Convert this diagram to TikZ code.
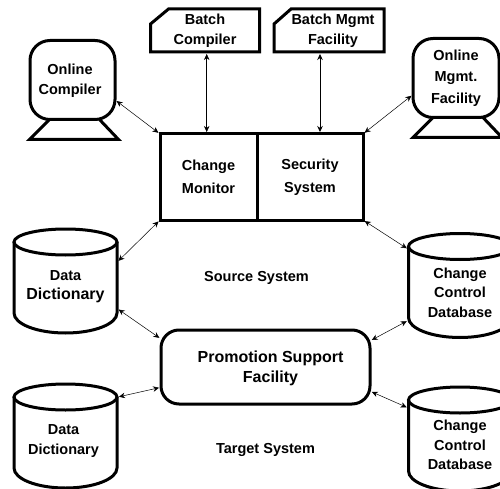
\documentclass[tikz,border=0pt]{standalone}
\usepackage{fontspec}
\setmainfont{Liberation Sans}
\usepackage{tikz}
\usetikzlibrary{arrows.meta,positioning}
\tikzset{
    every node/.style={font=\bfseries\fontsize{14.5}{20}\selectfont,align=center,inner sep=0pt,outer sep=0pt},
    box node/.style={draw,line width=3pt,rectangle,minimum height=86pt},
    card node/.style={rectangle,minimum width=#1,minimum height=43pt},
    screen node/.style={draw,line width=3pt,rectangle,rounded corners=20pt,minimum width=85pt,minimum height=79pt},
    db node/.style={rectangle,minimum width=103pt,minimum height=104pt},
    text node/.style={font=\bfseries\fontsize{14.5}{19.5}\selectfont},
    outline/.style={line width=3pt,line join=miter},
    link/.style={<->,>={Stealth[length=6pt,width=5.5pt]},line width=0.5pt,shorten >=2pt,shorten <=2pt}
}
\newcommand{\screenbase}[1]{%
    \draw[outline] ([xshift=-23pt]#1.south) -- ([xshift=-43pt,yshift=-20pt]#1.south)
        -- ([xshift=46pt,yshift=-20pt]#1.south) -- ([xshift=27pt]#1.south);
}
\newcommand{\dbshape}[1]{%
    \draw[outline] ([yshift=-13pt]#1.north) ellipse [x radius=51.5pt,y radius=13pt];
    \draw[outline] ([yshift=-13pt]#1.north west) -- ([yshift=20pt]#1.south west)
        arc [start angle=180,end angle=360,x radius=51.5pt,y radius=20pt] -- ([yshift=-13pt]#1.north east);
}
\begin{document}
\begin{tikzpicture}[x=1pt,y=-1pt]
    \useasboundingbox (0,0) rectangle (500,489);

    \node[box node,minimum width=97pt] (monitor) at (208.5,177) {Change\\[3pt]Monitor};
    \node[box node,minimum width=106pt] (security) [right=0pt of monitor] {Security\\[3pt]System};

    \node[card node=109pt] (batchc) at (205,30.5) {Batch\\Compiler};
    \node[card node=102pt] (batchm) at (333,30.5) {Batch Mgmt\\Facility};
    \draw[outline] ([yshift=-15pt]batchc.north west) -- ([xshift=18pt]batchc.north west)
        -- (batchc.north east) -- (batchc.south east) -- (batchc.south west) -- cycle;
    \draw[outline] ([xshift=-8pt,yshift=-15pt]batchm.north west) -- ([xshift=9pt]batchm.north west)
        -- (batchm.north east) -- (batchm.south east) -- ([xshift=-8pt]batchm.south west) -- cycle;

    \node[screen node,label={[xshift=-2.5pt,yshift=-1pt]center:{Online\\Compiler}}] (compiler) at (72.5,80) {};
    \node[screen node,minimum width=86pt] (mgmt) at (456,78) {Online\\[1.5pt]Mgmt.\\[1.5pt]Facility};
    \screenbase{compiler}
    \screenbase{mgmt}

    \node[db node,label={[text node,yshift=-5.5pt]center:{Data\\{\fontsize{16}{20}\selectfont Dictionary}}}] (dict1) at (65.5,281) {};
    \node[db node,label={[text node,xshift=-2pt,yshift=-5pt]center:{Data\\Dictionary}}] (dict2) at (65.5,436) {};
    \node[db node,label={[text node,yshift=-7pt]center:{Change\\Control\\Database}}] (control1) at (460,285.5) {};
    \node[db node,label={[text node,yshift=-6pt]center:{Change\\Control\\Database}}] (control2) at (460,439) {};
    \dbshape{dict1}
    \dbshape{dict2}
    \dbshape{control1}
    \dbshape{control2}

    \node[draw,line width=3pt,rectangle,rounded corners=18pt,minimum width=209pt,minimum height=74pt,
        label={[font=\bfseries\fontsize{16}{20}\selectfont,xshift=5pt,yshift=-1pt]center:{Promotion Support\\Facility}}] (promotion) at (265.5,367) {};

    \node (source) at (256.5,278) {Source System};
    \node (target) at (265.5,450) {Target System};

    \draw[link] ([xshift=1.7pt]batchc.south) -- ([xshift=-1.8pt]monitor.north);
    \draw[link] ([xshift=-13pt]batchm.south) -- ([xshift=10pt]security.north);
    \draw[link] (compiler.-25) -- (monitor.north west);
    \draw[link] (mgmt.201.6) -- (security.north east);
    \draw[link] (dict1.20) -- (monitor.south west);
    \draw[link] (control1.145) -- (security.south east);
    \draw[link] (dict1.-28) -- (promotion.165.5);
    \draw[link] (dict2.37) -- (promotion.191);
    \draw[link] (promotion.14.5) -- (control1.214);
    \draw[link] (promotion.-13.5) -- (control2.149);

\end{tikzpicture}
\end{document}
